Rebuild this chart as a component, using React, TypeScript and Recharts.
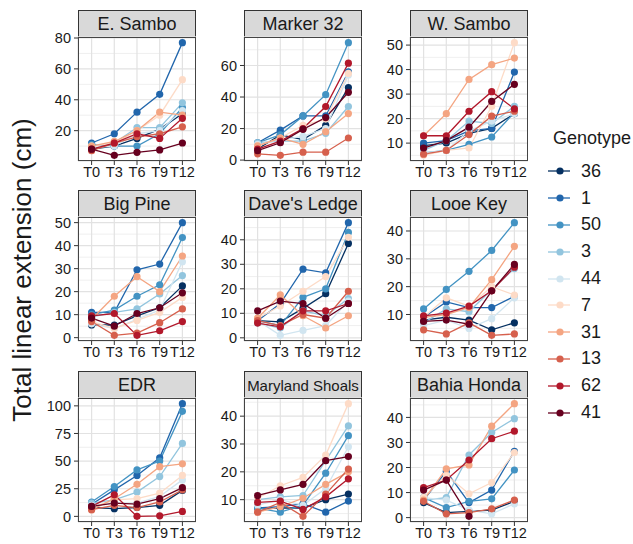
import React from "react";
import { LineChart, Line, XAxis, YAxis, CartesianGrid } from "recharts";

const TIMES = ["T0", "T3", "T6", "T9", "T12"];
const GENOTYPES = ["36", "1", "50", "3", "44", "7", "31", "13", "62", "41"];
const COLORS = ["#053061", "#2166AC", "#4393C3", "#92C5DE", "#D1E5F0", "#FDDBC7", "#F4A582", "#D6604D", "#B2182B", "#67001F"];

// one row per genotype (same order as GENOTYPES), one value per time point
const eSambo = [
  [8, 10, 15, 21, 31],
  [12, 18, 32, 43.5, 77],
  [11, 10, 10, 18, 35],
  [10, 12, 22, 22, 38],
  [9, 10, 18, 20, 33],
  [10, 12, 20, 30, 53],
  [10, 13, 20, 32, 30],
  [7, 12, 16, 18, 22.5],
  [8, 12, 18, 15, 28],
  [8, 4, 6, 7.5, 12],
];
const marker32 = [
  [7, 16, 13, 22, 46],
  [11, 19, 28, 28, 56],
  [11, 16, 28, 41.5, 74.5],
  [11, 12, 12, 17, 34],
  [10, 13, 15, 20, 54],
  [9, 14, 22, 26, 55],
  [9, 14, 10, 18, 29.5],
  [4, 3, 5, 5, 14],
  [7, 12, 20, 34, 61.5],
  [6, 11, 19.5, 27, 43],
];
const wSambo = [
  [9, 10, 14, 16, 22],
  [10, 11, 15, 16, 39],
  [6, 7, 9.5, 12.5, 22.5],
  [7, 11, 19, 18, 25],
  [6, 7, 15, 19, 22],
  [5, 7, 8, 25, 51],
  [13, 22, 36, 42, 44.7],
  [5.5, 7, 13.5, 21, 23],
  [13, 13, 23, 31, 24],
  [8, 11, 16.5, 27, 34],
];
const bigPine = [
  [5.5, 5.5, 9.5, 13, 22.5],
  [11, 11, 29.5, 32, 50],
  [10, 12, 18, 23, 43.5],
  [9, 11, 12.5, 19, 27],
  [6, 4, 8, 12, 33],
  [7, 4, 7.5, 11, 17.5],
  [8, 18, 26.5, 20, 35.5],
  [7, 1, 2, 6.5, 12.5],
  [9.5, 10.5, 1, 3, 7],
  [8.5, 5, 10.5, 13, 19.5],
];
const davesLedge = [
  [7, 6.5, 12, 18, 38.5],
  [7, 14, 28, 26.5, 47],
  [7, 5, 16.5, 20, 43],
  [6, 4, 11, 9, 16],
  [7, 1, 3, 5, 15],
  [8, 13, 19, 25, 41],
  [8, 17.5, 9, 4, 9],
  [7, 5, 9.5, 8, 19],
  [6, 4.5, 11, 11, 14],
  [11, 15, 14, 8, 14],
];
const looeKey = [
  [8, 9, 8, 4.5, 7],
  [9, 14.5, 12.5, 12.5, 16.5],
  [12, 19, 25.5, 33, 43],
  [7, 12, 11, 19, 26.5],
  [6, 8, 5, 8.5, 16],
  [9, 16, 13, 20, 17],
  [9, 10, 12.5, 22.5, 34.5],
  [4.5, 3, 7, 2.5, 3],
  [9.5, 10.5, 13, 18.5, 27],
  [7.5, 8, 6.5, 18.5, 28],
];
const edr = [
  [8, 7, 8, 10, 23.5],
  [11, 24, 37, 53, 102],
  [13, 27, 42, 50, 95],
  [12, 15, 22, 36, 66],
  [10, 12, 12, 18, 33],
  [8, 15, 16, 21, 37],
  [6, 16, 29, 45, 47.5],
  [6, 10, 8, 13, 24],
  [9, 19.5, 0, 0.5, 4.5],
  [9, 12, 11, 16, 26],
];
const marylandShoals = [
  [7, 7, 7, 10, 12],
  [7, 7.5, 8.5, 5.5, 9.5],
  [7, 5.5, 8, 19.5, 33],
  [10, 11, 11.5, 24, 36.5],
  [8, 10, 8, 14, 29],
  [10.5, 15, 18, 26, 44.5],
  [5.5, 7.5, 10.5, 15.5, 20],
  [5.5, 9, 4, 12, 21],
  [9, 9.5, 6.5, 11, 17.5],
  [11.5, 13.5, 15.5, 24, 25.5],
];
const bahiaHonda = [
  [6, 2, 2.5, 3, 6.5],
  [7, 18.5, 6, 11, 26.5],
  [8, 4, 6.5, 7.5, 19],
  [7, 8, 25, 34, 39.5],
  [8, 7, 3, 1.5, 5.5],
  [8, 17, 9.5, 14, 26],
  [7, 19.5, 21, 36.5, 45.5],
  [6.5, 1.5, 2, 3.5, 7],
  [12, 15, 23, 31.5, 34.5],
  [11, 15, 0.5, null, null],
];

const SITES = [
  { name: "E. Sambo", values: eSambo, ticks: [20, 40, 60, 80], minor: [10, 30, 50, 70] },
  { name: "Marker 32", values: marker32, ticks: [0, 20, 40, 60], minor: [10, 30, 50, 70] },
  { name: "W. Sambo", values: wSambo, ticks: [10, 20, 30, 40, 50], minor: [5, 15, 25, 35, 45] },
  { name: "Big Pine", values: bigPine, ticks: [0, 10, 20, 30, 40, 50], minor: [5, 15, 25, 35, 45] },
  { name: "Dave's Ledge", values: davesLedge, ticks: [0, 10, 20, 30, 40], minor: [5, 15, 25, 35, 45] },
  { name: "Looe Key", values: looeKey, ticks: [10, 20, 30, 40], minor: [5, 15, 25, 35] },
  { name: "EDR", values: edr, ticks: [0, 25, 50, 75, 100], minor: [12.5, 37.5, 62.5, 87.5] },
  { name: "Maryland Shoals", values: marylandShoals, ticks: [10, 20, 30, 40], minor: [5, 15, 25, 35, 45], size: 15 },
  { name: "Bahia Honda", values: bahiaHonda, ticks: [0, 10, 20, 30, 40], minor: [5, 15, 25, 35, 45] },
];

const FONT = "'Liberation Sans', Arial, sans-serif";
const COL_X = [78, 244, 410];
const ROW_Y = [10, 190, 371];
const STRIP_H = 27;
const PLOT_W = 118;
const PLOT_H = 124;
const YAXIS_W = 40;
const XAXIS_H = 26;
const TOP_PAD = 10;

function domainOf(values: (number | null)[][]): [number, number] {
  const all = values.flat().filter((v): v is number => v != null);
  const min = Math.min(...all);
  const max = Math.max(...all);
  const pad = (max - min) * 0.05;
  return [min - pad, max + pad];
}

function Panel({ site, left, top }: { site: any; left: number; top: number }) {
  const data = TIMES.map((t, i) => {
    const row: any = { t };
    GENOTYPES.forEach((g, j) => {
      row["g" + g] = site.values[j][i];
    });
    return row;
  });
  const dom = domainOf(site.values);
  const plotTop = top + STRIP_H;
  const tick = { fontSize: 14.5, fill: "#1a1a1a", fontFamily: FONT };

  return (
    <>
      <div
        style={{
          position: "absolute",
          left,
          top,
          width: PLOT_W,
          height: STRIP_H + 1,
          background: "#D9D9D9",
          border: "1px solid #333",
          boxSizing: "border-box",
          display: "flex",
          alignItems: "center",
          justifyContent: "center",
          fontSize: site.size ?? 18,
          fontFamily: FONT,
          color: "#1a1a1a",
          whiteSpace: "nowrap",
        }}
      >
        {site.name}
      </div>
      <div style={{ position: "absolute", left: left - YAXIS_W, top: plotTop - TOP_PAD }}>
        <LineChart
          width={YAXIS_W + PLOT_W}
          height={TOP_PAD + PLOT_H + XAXIS_H}
          data={data}
          margin={{ top: TOP_PAD, right: 0, bottom: 0, left: 0 }}
        >
          <CartesianGrid yAxisId="minor" vertical={false} stroke="#EBEBEB" strokeWidth={0.8} />
          <CartesianGrid yAxisId="main" stroke="#E2E2E2" strokeWidth={1.2} />
          <XAxis
            dataKey="t"
            padding={{ left: 13.6, right: 13.6 }}
            interval={0}
            height={XAXIS_H}
            tick={tick}
            tickSize={4}
            tickMargin={2}
            axisLine={false}
            tickLine={{ stroke: "#333" }}
          />
          <YAxis
            yAxisId="main"
            type="number"
            domain={dom}
            ticks={site.ticks}
            interval={0}
            allowDataOverflow
            width={YAXIS_W}
            tick={tick}
            tickSize={4}
            tickMargin={3}
            axisLine={false}
            tickLine={{ stroke: "#333" }}
          />
          <YAxis yAxisId="minor" type="number" hide domain={dom} ticks={site.minor} interval={0} allowDataOverflow />
          {GENOTYPES.map((g, j) => (
            <Line
              key={g}
              yAxisId="main"
              type="linear"
              dataKey={"g" + g}
              stroke={COLORS[j]}
              strokeWidth={1.3}
              dot={{ r: 3.6, fill: COLORS[j], stroke: "none" }}
              activeDot={false}
              isAnimationActive={false}
            />
          ))}
        </LineChart>
      </div>
      <div
        style={{
          position: "absolute",
          left,
          top: plotTop,
          width: PLOT_W,
          height: PLOT_H,
          border: "1px solid #444",
          boxSizing: "border-box",
          pointerEvents: "none",
        }}
      />
    </>
  );
}

function GenotypeLegend() {
  return (
    <div style={{ position: "absolute", left: 545, top: 128, fontFamily: FONT, color: "#1a1a1a" }}>
      <div style={{ fontSize: 18, height: 30, marginLeft: 8 }}>Genotype</div>
      {GENOTYPES.map((g, j) => (
        <div key={g} style={{ display: "flex", alignItems: "center", height: 26.8 }}>
          <svg width={30} height={12}>
            <line x1={3} y1={6} x2={25} y2={6} stroke={COLORS[j]} strokeWidth={1.3} />
            <circle cx={15} cy={6} r={3.6} fill={COLORS[j]} />
          </svg>
          <span style={{ fontSize: 18, marginLeft: 6 }}>{g}</span>
        </div>
      ))}
    </div>
  );
}

export default function App() {
  return (
    <div style={{ position: "fixed", left: 0, top: 0, width: 633, height: 544, background: "#fff", overflow: "hidden" }}>
      <svg style={{ position: "absolute", left: 0, top: 0 }} width={50} height={544}>
        <text
          x={24}
          y={270}
          transform="rotate(-90 24 270)"
          textAnchor="middle"
          dominantBaseline="middle"
          fontSize={26}
          fontFamily={FONT}
          fill="#1a1a1a"
        >
          Total linear extension (cm)
        </text>
      </svg>
      {SITES.map((site, i) => (
        <Panel key={site.name} site={site} left={COL_X[i % 3]} top={ROW_Y[Math.floor(i / 3)]} />
      ))}
      <GenotypeLegend />
    </div>
  );
}
